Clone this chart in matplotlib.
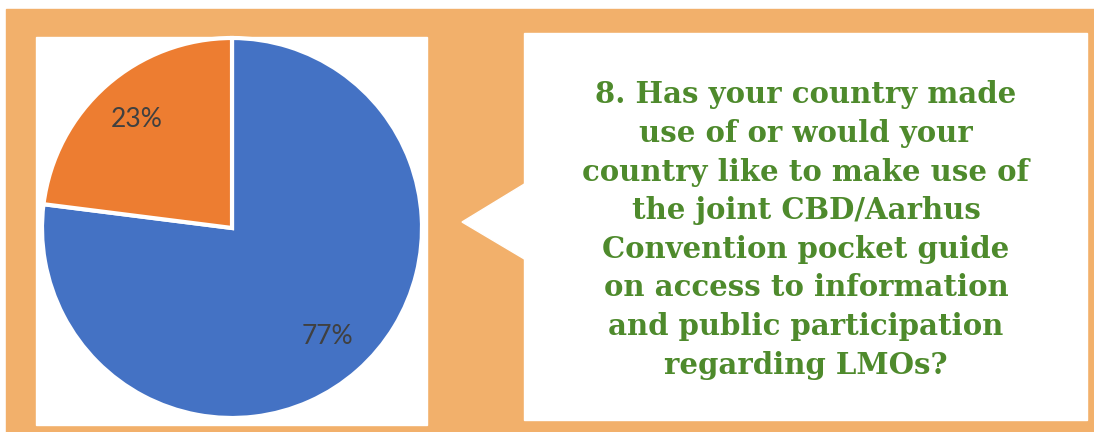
import matplotlib.pyplot as plt
from matplotlib.patches import Rectangle, Polygon

# pie data
labels = ["Yes", "No"]
shares = [77, 23]
slice_colors = ["#4472C4", "#ED7D31"]

question = ("8. Has your country made\n"
            "use of or would your\n"
            "country like to make use of\n"
            "the joint CBD/Aarhus\n"
            "Convention pocket guide\n"
            "on access to information\n"
            "and public participation\n"
            "regarding LMOs?")

W, H = 1094, 432
fig = plt.figure(figsize=(W / 100, H / 100), dpi=100)
fig.patch.set_facecolor("white")

def px(x, y):
    # image pixel coords (origin top-left) -> figure fraction
    return x / W, 1 - y / H

bg = "#F2B06B"
# orange backdrop, thin white strip on top and left
fig.patches.append(Rectangle(px(6, 432), (W - 6) / W, (432 - 9) / H,
                             transform=fig.transFigure, color=bg, zorder=0))
# left white panel
fig.patches.append(Rectangle(px(36, 425), (427 - 36) / W, (425 - 37) / H,
                             transform=fig.transFigure, color="white", zorder=1))
# right white callout box + pointer
fig.patches.append(Rectangle(px(524, 420), (1087 - 524) / W, (420 - 33) / H,
                             transform=fig.transFigure, color="white", zorder=1))
fig.patches.append(Polygon([px(526, 183), px(462, 222), px(526, 260)],
                           closed=True, transform=fig.transFigure,
                           color="white", zorder=1))

# pie: centre about (232, 228), radius about 190 px
ax = fig.add_axes([42 / W, (432 - 418) / H, 380 / W, 380 / H])
ax.set_zorder(3)
ax.patch.set_alpha(0)
ax.pie(shares, colors=slice_colors, startangle=90, counterclock=False,
       autopct="%1.0f%%", pctdistance=0.76, radius=1,
       wedgeprops=dict(edgecolor="white", linewidth=3),
       textprops=dict(color="#404040", fontsize=19, family="Lato"))
ax.set_xlim(-1.0, 1.0)
ax.set_ylim(-1.0, 1.0)
ax.set_aspect("equal")
ax.axis("off")

cx, cy = px(806, 230)
fig.text(cx, cy, question, ha="center", va="center", color="#4E8A2C",
         fontsize=21, fontweight="bold", family="DejaVu Serif",
         linespacing=1.42, zorder=4)

fig.savefig("out.png", dpi=100)
